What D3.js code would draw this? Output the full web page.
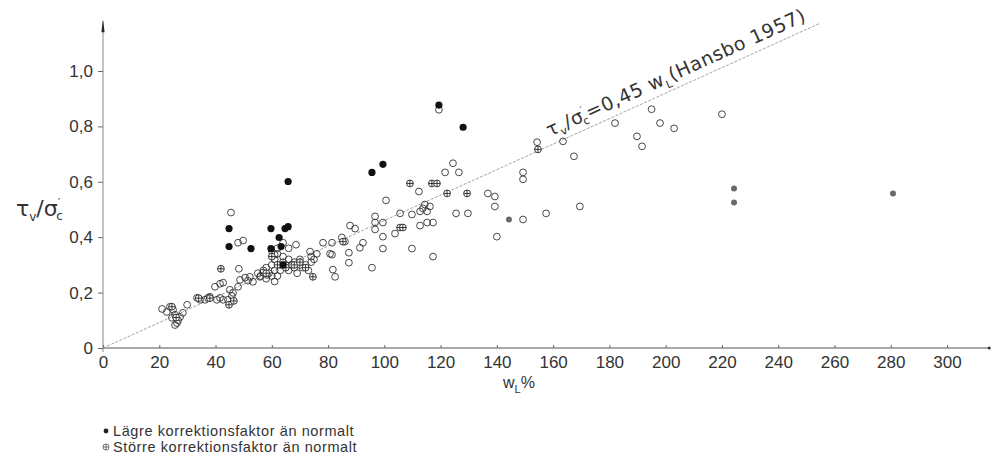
<!DOCTYPE html>
<html>
<head>
<meta charset="utf-8">
<script src="https://cdn.jsdelivr.net/npm/d3@7"></script>
<style>
  body { margin: 0; background: #fff; }
  svg { display: block; }
  text { font-family: "Liberation Sans", Arial, sans-serif; fill: #333; }
</style>
</head>
<body>
<script>
// ---- data : [w_L %, tau_v / sigma'_c] ----
var openPts = [
  [21,0.141],[22.7,0.13],[23.8,0.149],[24.9,0.138],[24.5,0.109],[26.3,0.09],[26.7,0.10],
  [27.4,0.112],[28.4,0.127],[29.9,0.156],[25.6,0.12],[25.6,0.083],
  [33.4,0.181],[34.5,0.174],[36.3,0.174],[37.3,0.181],[38,0.185],[40.5,0.174],[41.6,0.181],
  [42.7,0.174],[39.8,0.221],[41.6,0.232],[42.7,0.236],
  [45.5,0.489],[48,0.38],[49.8,0.388],[48.3,0.286],[45.1,0.21],[45.8,0.188],[46.2,0.199],
  [44.4,0.174],[48,0.221],[48.7,0.246],[50.5,0.254],[51.5,0.243],[52.2,0.257],[53.3,0.239],
  [55,0.27],[56,0.26],[57,0.28],[58,0.25],[58,0.29],[59,0.27],[60,0.26],[60,0.3],[61,0.28],
  [61,0.32],[62,0.26],[62,0.34],[63,0.3],[63,0.28],[64,0.31],[64,0.33],[65,0.3],[66,0.32],
  [66,0.28],[67,0.3],[68,0.31],[68,0.29],[69,0.27],[70,0.3],[70,0.32],[71,0.29],[72,0.3],
  [73,0.28],[74,0.33],[74,0.31],[75,0.32],[76,0.34],[60,0.35],[62,0.36],[61,0.24],
  [55.8,0.257],[56.9,0.272],[58.3,0.264],[64,0.38],[66,0.36],[61,0.337],[73.6,0.348],
  [68.6,0.373],[78.2,0.38],[81.4,0.38],[80.7,0.34],[81.7,0.283],[82.5,0.257],
  [81.4,0.337],[84.9,0.399],[86,0.384],[87.8,0.442],[89.6,0.431],[91.3,0.362],[92.4,0.38],
  [87.4,0.344],[87.4,0.308],[95.6,0.29],[96.7,0.475],[96.7,0.453],[99.5,0.453],[96.7,0.428],
  [99.5,0.402],[99.5,0.359],[100.6,0.533],
  [103.8,0.413],[105.6,0.486],[109.8,0.482],[112.7,0.493],[115.2,0.493],[113.7,0.504],
  [116.2,0.511],[114.4,0.518],[112.3,0.565],[112.7,0.442],[115.2,0.453],[117.3,0.453],
  [109.8,0.359],[117.3,0.33],[121.6,0.634],[124.4,0.667],[126.5,0.634],[125.5,0.486],
  [129.7,0.486],[119.4,0.86],
  [136.8,0.558],[139.3,0.547],[139.3,0.511],[140,0.402],[149.3,0.634],[149.3,0.609],
  [149.3,0.464],[157.5,0.486],[154.3,0.743],[163.5,0.746],[167.4,0.692],[169.5,0.511],
  [182,0.812],[189.8,0.764],[191.6,0.728],[195,0.862],[198,0.812],[203,0.793],[220,0.844]
];
// "Lägre korrektionsfaktor än normalt"
var filledPts = [
  [44.8,0.431],[44.8,0.366],[52.6,0.359],[59.7,0.431],[64.7,0.431],[65.8,0.438],[62.6,0.399],
  [59.7,0.359],[63.3,0.366],[65.8,0.601],[64,0.3],[95.6,0.634],[99.5,0.663],[119.4,0.877],
  [128,0.797]
];
// "Större korrektionsfaktor än normalt"
var crossedPts = [
  [24.5,0.149],[26,0.11],[34,0.18],[38,0.18],[41.9,0.286],[44.8,0.156],[46.5,0.17],
  [74.6,0.257],[62,0.3],[65,0.29],[68,0.3],[70,0.31],[58,0.27],[72,0.29],[60,0.33],
  [85.3,0.384],[105.6,0.435],[106.6,0.435],[109.1,0.594],[116.9,0.594],[118.7,0.594],
  [122.3,0.558],[129.4,0.558],[154.6,0.717]
];
var greyPts = [[144.3,0.464],[224.3,0.576],[224.3,0.525],[280.8,0.558]];

var xTicks = d3.range(0, 301, 20);
var yTicks = [0, 0.2, 0.4, 0.6, 0.8, 1.0];
var lineSlope = 0.46;      // drawn line, per unit w_L (fraction)
var lineEnd = 255;         // w_L % where the drawn line stops
var legendLabels = ["Lägre korrektionsfaktor än normalt", "Större korrektionsfaktor än normalt"];

// ---- layout ----
var width = 994, height = 462;
var svg = d3.select('body').append('svg').attr('width', width).attr('height', height);

var x = d3.scaleLinear().domain([0, 300]).range([103, 947]);
var y = d3.scaleLinear().domain([0, 1]).range([348, 71]);
var fmt = function(d){ return d === 0 ? "0" : d3.format(".1f")(d).replace(".", ","); };

// axes lines (extended past last tick as in the original)
svg.append('line').attr('x1', x(0)).attr('x2', x(315)).attr('y1', y(0)).attr('y2', y(0))
   .attr('stroke', '#555').attr('stroke-width', 1.2);
svg.append('circle').attr('cx', x(315)).attr('cy', y(0)).attr('r', 1.6).attr('fill', '#333');
svg.append('line').attr('x1', x(0)).attr('x2', x(0)).attr('y1', y(0) + 4).attr('y2', y(1.18))
   .attr('stroke', '#888').attr('stroke-width', 1);
svg.append('path')
   .attr('d', 'M' + (x(0) - 1.6) + ',' + y(1.14) + 'L' + x(0) + ',' + y(1.185) + 'L' + (x(0) + 1.6) + ',' + y(1.14) + 'Z')
   .attr('fill', '#222');

var xAxis = d3.axisBottom(x).tickValues(xTicks).tickSize(-3).tickPadding(8).tickFormat(d3.format('d'));
var gx = svg.append('g').attr('transform', 'translate(0,' + y(0) + ')').call(xAxis);
gx.select('.domain').remove();
gx.selectAll('line').attr('stroke', '#666');
gx.selectAll('text').style('font-size', '17px').attr('fill', '#333');

var yAxis = d3.axisLeft(y).tickValues(yTicks).tickSize(5).tickPadding(5).tickFormat(fmt);
var gy = svg.append('g').attr('transform', 'translate(' + x(0) + ',0)').call(yAxis);
gy.select('.domain').remove();
gy.selectAll('line').attr('stroke', '#666');
gy.selectAll('text').style('font-size', '17px').attr('fill', '#333');

// reference line
svg.append('line')
   .attr('x1', x(0)).attr('y1', y(0))
   .attr('x2', x(lineEnd)).attr('y2', y(lineSlope * lineEnd / 100))
   .attr('stroke', '#999').attr('stroke-width', 0.9).attr('stroke-dasharray', '3,1.5');

// annotation along the line
var ang = Math.atan2(y(lineSlope * lineEnd / 100) - y(0), x(lineEnd) - x(0)) * 180 / Math.PI;
var ann = svg.append('text')
   .attr('transform', 'translate(' + x(160) + ',' + y(lineSlope * 1.60) + ') rotate(' + ang + ')')
   .attr('y', -8)
   .style('font-family', '"DejaVu Sans", sans-serif').style('font-size', '19px')
   .style('letter-spacing', '0.6px').attr('fill', '#333');
ann.append('tspan').text('τ');
ann.append('tspan').attr('dy', 4).style('font-size', '11px').text('v');
ann.append('tspan').attr('dy', -4).text('/σ');
ann.append('tspan').attr('dy', -8).style('font-size', '10px').text('′');
ann.append('tspan').attr('dx', -5).attr('dy', 12).style('font-size', '11px').text('c');
ann.append('tspan').attr('dy', -4).text('=0,45  w');
ann.append('tspan').attr('dy', 5).style('font-size', '11px').text('L');
ann.append('tspan').attr('dy', -5).text('(Hansbo 1957)');

// axis titles
var yl = svg.append('text').attr('x', 16).attr('y', 216)
   .style('font-family', '"DejaVu Sans", sans-serif').style('font-size', '22px');
yl.append('tspan').text('τ');
yl.append('tspan').attr('dy', 5).style('font-size', '12px').text('v');
yl.append('tspan').attr('dy', -5).text('/σ');
yl.append('tspan').attr('dy', -10).style('font-size', '11px').text('′');
yl.append('tspan').attr('dx', -4).attr('dy', 14).style('font-size', '12px').text('c');

var xl = svg.append('text').attr('x', 503).attr('y', 388).style('font-size', '16px');
xl.append('tspan').text('w');
xl.append('tspan').attr('dy', 5).style('font-size', '11px').text('L');
xl.append('tspan').attr('dy', -5).text('%');

// ---- marks ----
var r = 3.4;
var plot = svg.append('g');

plot.selectAll('.open').data(openPts).enter().append('circle').attr('class', 'open')
    .attr('cx', function(d){ return x(d[0]); }).attr('cy', function(d){ return y(d[1]); })
    .attr('r', r).attr('fill', 'none').attr('stroke', '#333').attr('stroke-width', 0.9);

var cr = plot.selectAll('.cross').data(crossedPts).enter().append('g').attr('class', 'cross')
    .attr('transform', function(d){ return 'translate(' + x(d[0]) + ',' + y(d[1]) + ')'; });
cr.append('circle').attr('r', r).attr('fill', '#fff').attr('stroke', '#222').attr('stroke-width', 0.9);
cr.append('path').attr('d', 'M' + (-r) + ',0H' + r + 'M0,' + (-r) + 'V' + r)
    .attr('stroke', '#222').attr('stroke-width', 0.9);

plot.selectAll('.filled').data(filledPts).enter().append('circle').attr('class', 'filled')
    .attr('cx', function(d){ return x(d[0]); }).attr('cy', function(d){ return y(d[1]); })
    .attr('r', r + 0.2).attr('fill', '#111');

plot.selectAll('.grey').data(greyPts).enter().append('circle').attr('class', 'grey')
    .attr('cx', function(d){ return x(d[0]); }).attr('cy', function(d){ return y(d[1]); })
    .attr('r', r - 0.4).attr('fill', '#6a6a6a');

// ---- legend ----
var lg = svg.append('g').attr('transform', 'translate(106,431)');
lg.append('circle').attr('r', 2.4).attr('fill', '#222');
lg.append('text').attr('x', 7).attr('y', 5).style('font-size', '14.5px')
  .style('letter-spacing', '0.6px').text(legendLabels[0]);
var l2 = lg.append('g').attr('transform', 'translate(0,16)');
l2.append('circle').attr('r', 3).attr('fill', 'none').attr('stroke', '#555').attr('stroke-width', 0.8);
l2.append('path').attr('d', 'M-3,0H3M0,-3V3').attr('stroke', '#555').attr('stroke-width', 0.8);
l2.append('text').attr('x', 7).attr('y', 5).style('font-size', '14.5px')
  .style('letter-spacing', '0.6px').text(legendLabels[1]);
</script>
</body>
</html>
